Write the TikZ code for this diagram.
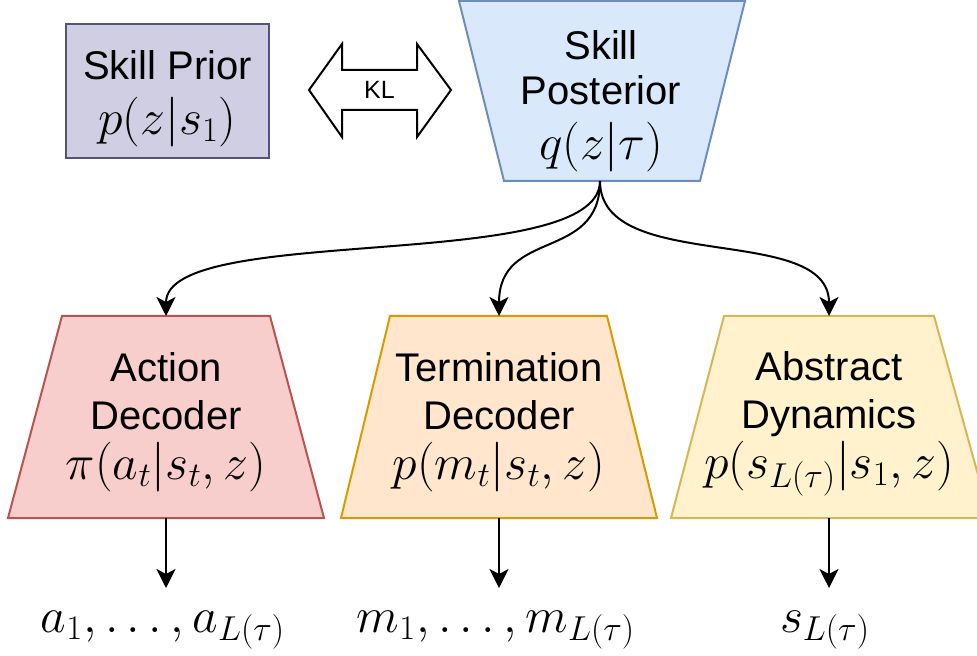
\documentclass[tikz,border=0pt]{standalone}
\usepackage{fontspec}
\setmainfont{Liberation Sans}
\usetikzlibrary{arrows.meta}
\definecolor{priorfill}{HTML}{D0CEE2}
\definecolor{priordraw}{HTML}{56517E}
\definecolor{postfill}{HTML}{DAE8FC}
\definecolor{postdraw}{HTML}{6C8EBF}
\definecolor{actfill}{HTML}{F8CECC}
\definecolor{actdraw}{HTML}{B85450}
\definecolor{termfill}{HTML}{FFE6CC}
\definecolor{termdraw}{HTML}{D79B00}
\definecolor{absfill}{HTML}{FFF2CC}
\definecolor{absdraw}{HTML}{D6B656}
\newcommand{\mymath}[1]{{\fontsize{24.5}{28}\selectfont$#1$}}
\begin{document}
\begin{tikzpicture}[x=0.5pt,y=-0.5pt,
  boxline/.style={line width=1pt},
  lbl/.style={align=center,inner sep=0pt,anchor=north},
  toplbl/.style={lbl,font=\fontsize{20}{22.5}\selectfont},
  declbl/.style={lbl,font=\fontsize{20}{24}\selectfont},
  outlbl/.style={inner sep=0pt,font=\fontsize{24.5}{28}\selectfont},
  conn/.style={line width=1pt,-{Stealth[length=9.5pt,width=9.5pt,inset=2.5pt]}}]
\useasboundingbox (0,0) rectangle (977,656);
% Skill prior
\draw[boxline,draw=priordraw,fill=priorfill] (66,24) rectangle (269,158);
\node[toplbl] (prior) at (167.5,50) {Skill Prior\\[5pt]\mymath{p(z|s_1)}};
% KL double arrow
\draw[line width=1pt,fill=white] (309,90) -- (342,44) -- (342,70) -- (417,70) -- (417,44) -- (451,90) -- (417,137) -- (417,110) -- (342,110) -- (342,137) -- cycle;
\node[inner sep=0pt,font=\fontsize{12.5}{14}\selectfont] (kl) at (379.5,90) {KL};
% Skill posterior
\draw[boxline,draw=postdraw,fill=postfill] (459,1) -- (745,1) -- (700,181) -- (504,181) -- cycle;
\node[toplbl] (post) at (601,30) {Skill\\Posterior\\[5pt]\mymath{q(z|\tau)}};
\coordinate (posts) at (600,181);
% decoders
\draw[boxline,draw=actdraw,fill=actfill] (62,316) -- (270,316) -- (324,518) -- (8,518) -- cycle;
\node[declbl] (act) at (166,352) {Action\\Decoder\\[1pt]\mymath{\pi(a_t|s_t,z)}};
\coordinate (actn) at (166,316);
\coordinate (acts) at (166,518);
\draw[boxline,draw=termdraw,fill=termfill] (390,316) -- (607,316) -- (657,518) -- (341,518) -- cycle;
\node[declbl] (term) at (499,352) {Termination\\Decoder\\[1pt]\mymath{p(m_t|s_t,z)}};
\coordinate (termn) at (499,316);
\coordinate (terms) at (499,518);
\draw[boxline,draw=absdraw,fill=absfill] (724,316) -- (934,316) -- (990,518) -- (671,518) -- cycle;
\node[declbl] (abs) at (829,351) {Abstract\\Dynamics\\[1pt]\mymath{p(s_{L(\tau)}|s_1,z)}};
\coordinate (absn) at (829,316);
\coordinate (abss) at (829,518);
% outputs
\node[outlbl] (aout) at (163,630) {$a_1,\dots,a_{L(\tau)}$};
\node[outlbl] (mout) at (496,630) {$m_1,\dots,m_{L(\tau)}$};
\node[outlbl] (sout) at (825,630) {$s_{L(\tau)}$};
\coordinate (aoutn) at (166,588);
\coordinate (moutn) at (499,588);
\coordinate (soutn) at (829,588);
% connectors
\draw[conn] (posts) .. controls (600,275) and (166,222) .. (actn);
\draw[conn] (posts) .. controls (600,262) and (499,228) .. (termn);
\draw[conn] (posts) .. controls (600,275) and (829,222) .. (absn);
\draw[conn] (acts) -- (aoutn);
\draw[conn] (terms) -- (moutn);
\draw[conn] (abss) -- (soutn);
\end{tikzpicture}
\end{document}
